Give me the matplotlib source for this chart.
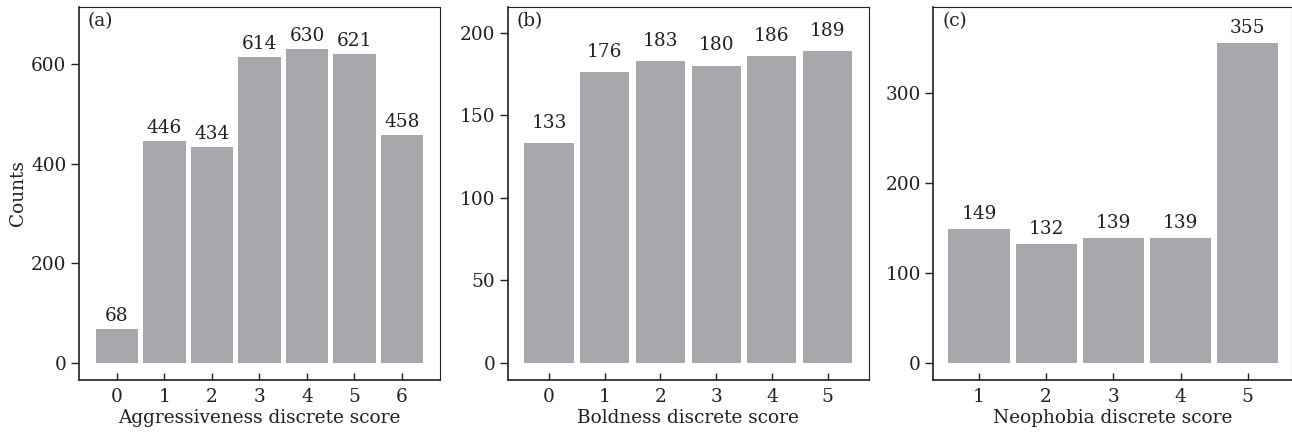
import matplotlib.pyplot as plt

# data
aggr_scores = [0, 1, 2, 3, 4, 5, 6]
aggr_counts = [68, 446, 434, 614, 630, 621, 458]

bold_scores = [0, 1, 2, 3, 4, 5]
bold_counts = [133, 176, 183, 180, 186, 189]

neo_scores = [1, 2, 3, 4, 5]
neo_counts = [149, 132, 139, 139, 355]

panels = [
    ("(a)", "Aggressiveness discrete score", aggr_scores, aggr_counts, [0, 200, 400, 600]),
    ("(b)", "Boldness discrete score", bold_scores, bold_counts, [0, 50, 100, 150, 200]),
    ("(c)", "Neophobia discrete score", neo_scores, neo_counts, [0, 100, 200, 300]),
]

# layout (figure fractions) and axis limits
axes_rects = [
    (0.0611, 0.150, 0.2794, 0.8345),
    (0.3930, 0.150, 0.2795, 0.8345),
    (0.7224, 0.150, 0.2776, 0.8345),
]
xlims = [(-0.8, 6.8), (-0.74, 5.74), (0.32, 5.66)]
ylims = [(-34, 715), (-10.3, 215.5), (-18.8, 395)]
bar_widths = [0.9, 0.88, 0.91]
label_offsets = [3, 8, 4]

BAR_COLOR = "#a7a8ab"
TEXT_COLOR = "#231f20"

plt.rcParams["font.family"] = ["DejaVu Serif"]
plt.rcParams["text.color"] = TEXT_COLOR
plt.rcParams["axes.labelcolor"] = TEXT_COLOR
plt.rcParams["xtick.color"] = TEXT_COLOR
plt.rcParams["ytick.color"] = TEXT_COLOR

FS = 13.3

fig = plt.figure(figsize=(12.92, 4.47), dpi=100)

for k, (tag, xlabel, scores, counts, yticks) in enumerate(panels):
    ax = fig.add_axes(axes_rects[k])
    bars = ax.bar(scores, counts, width=bar_widths[k], color=BAR_COLOR, linewidth=0)
    for rect, c in zip(bars, counts):
        ax.annotate(str(c), (rect.get_x() + rect.get_width() / 2, rect.get_height()),
                    xytext=(0, label_offsets[k]), textcoords="offset points",
                    ha="center", va="bottom", fontsize=FS)

    ax.set_xlim(*xlims[k])
    ax.set_ylim(*ylims[k])
    ax.set_xticks(scores)
    ax.set_yticks(yticks)
    ax.tick_params(axis="x", direction="in", length=5, width=1, labelsize=FS, pad=6)
    ax.tick_params(axis="y", direction="out", length=6, width=1, labelsize=FS, pad=3)
    for spine in ax.spines.values():
        spine.set_linewidth(1.2)
        spine.set_color(TEXT_COLOR)
    ax.spines["right"].set_linewidth(0.8)
    ax.spines["top"].set_linewidth(0.8)

    ax.set_xlabel(xlabel, fontsize=FS, labelpad=2)
    if k == 0:
        ax.set_ylabel("Counts", fontsize=FS, labelpad=3)

    ax.text(0.025, 0.985, tag, transform=ax.transAxes, ha="left", va="top", fontsize=FS)

fig.savefig("out.png", dpi=100)
